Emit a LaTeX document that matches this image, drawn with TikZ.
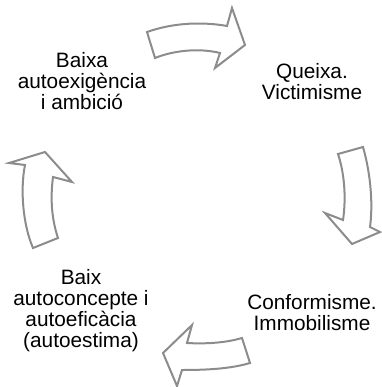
\documentclass[tikz,border=0pt]{standalone}
\usepackage{fontspec}
\setmainfont{Liberation Sans}
\begin{document}
\begin{tikzpicture}[x=1pt,y=-1pt,
  cyclearrow/.style={draw=black!45,line width=2pt,fill=white,line join=miter},
  label/.style={align=center,font=\fontsize{20.8}{21}\selectfont,inner sep=0pt,anchor=base}]
\useasboundingbox (0,0) rectangle (381,387);
% top arrow
\path[cyclearrow] (147,32) .. controls (175,22) and (205,22) .. (227,26) -- (232,8) -- (245,45) -- (215,68) -- (220,53) .. controls (200,48) and (175,50) .. (155,58) -- cycle;
% right arrow
\path[cyclearrow] (338,154) -- (363,147) .. controls (371,175) and (373,205) .. (370,227) -- (380,232) -- (352,244) -- (325,213) -- (343,220) .. controls (346,200) and (345,175) .. (338,154) -- cycle;
% bottom arrow
\path[cyclearrow] (242,338) .. controls (225,343) and (205,344) .. (187,343) -- (192,325) -- (163,353) -- (177,386) -- (182,370) .. controls (205,370) and (230,369) .. (250,363) -- cycle;
% left arrow
\path[cyclearrow] (33,248) -- (58,238) .. controls (52,220) and (50,200) .. (53,177) -- (72,182) -- (45,152) -- (9,163) -- (25,165) .. controls (20,190) and (23,225) .. (33,248) -- cycle;
% texts (anchored at the baseline of the last line)
\node[label] (a) at (82,110) {Baixa\\autoexigència\\i ambició};
\node[label] (b) at (312,100) {Queixa.\\Victimisme};
\node[label] (c) at (312,330) {Conformisme.\\Immobilisme};
\node[label] (d) at (81,347) {Baix\\autoconcepte i\\autoeficàcia\\(autoestima)};
\end{tikzpicture}
\end{document}
